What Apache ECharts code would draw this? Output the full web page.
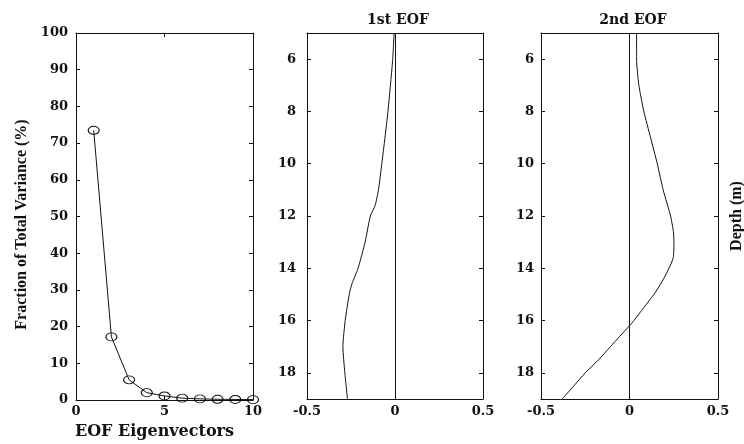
<!DOCTYPE html>
<html>
<head>
<meta charset="utf-8">
<script src="https://cdn.jsdelivr.net/npm/echarts@6/dist/echarts.min.js"></script>
<style>
  html, body { margin: 0; padding: 0; background: #fff; }
  #chart { width: 744px; height: 444px; }
</style>
</head>
<body>
<div id="chart"></div>
<script>
// Explained variance of the leading EOF modes (%)
const modeNumbers = [1, 2, 3, 4, 5, 6, 7, 8, 9, 10];
const varianceFraction = [73.5, 17.2, 5.5, 2.0, 1.1, 0.5, 0.3, 0.2, 0.15, 0.1];

// Vertical structure of the modes: depth (m) and amplitude
const eof1Depth = [5, 6, 7, 8, 9, 10, 11, 11.6, 12, 13, 14, 14.6, 15, 16, 17, 18, 19];
const eof1Value = [-0.005, -0.013, -0.026, -0.04, -0.057, -0.075, -0.094, -0.113, -0.14, -0.17, -0.21, -0.245, -0.26, -0.283, -0.296, -0.285, -0.27];

const eof2Depth = [5, 6, 7, 8, 9, 10, 11, 12, 12.6, 13, 13.6, 14, 14.5, 15, 15.5, 16, 16.2, 16.6, 17, 17.5, 18, 18.5, 19];
const eof2Value = [0.04, 0.04, 0.053, 0.081, 0.119, 0.157, 0.19, 0.232, 0.248, 0.251, 0.247, 0.223, 0.185, 0.138, 0.081, 0.025, 0.0, -0.055, -0.108, -0.175, -0.25, -0.315, -0.38];

const varianceTicks = { min: 0, max: 100, interval: 10 };
const modeTicks = { min: 0, max: 10, interval: 5 };
const depthRange = { min: 5, max: 19 };
const depthTickValues = [6, 8, 10, 12, 14, 16, 18];
const ampTicks = { min: -0.5, max: 0.5, interval: 0.5 };

const ink = '#111';
const tickFont = { fontFamily: 'DejaVu Serif', fontWeight: 'bold', fontSize: 13, color: ink };
const nameFont = { fontFamily: 'Liberation Serif', fontWeight: 'bold', fontSize: 16, color: ink };

const grids = [
  { left: 76, top: 33, width: 177, height: 367, outerBoundsMode: 'none' },
  { left: 307, top: 33, width: 176, height: 366, outerBoundsMode: 'none' },
  { left: 541, top: 33, width: 177, height: 366, outerBoundsMode: 'none' }
];

function axisBase(gridIndex, position, ticks, showLabel, extra) {
  const ax = {
    type: 'value',
    gridIndex: gridIndex,
    position: position,
    min: ticks.min,
    max: ticks.max,
    axisLine: { show: true, onZero: false, lineStyle: { color: ink, width: 1 } },
    axisTick: { show: true, inside: true, length: 4, lineStyle: { color: ink, width: 1 } },
    splitLine: { show: false },
    axisLabel: Object.assign({ show: showLabel }, tickFont)
  };
  if (ticks.interval) ax.interval = ticks.interval;
  return Object.assign(ax, extra || {});
}

function depthAxis(gridIndex, position, showLabel, margin, extra) {
  return axisBase(gridIndex, position, depthRange, showLabel, Object.assign({
    inverse: true,
    axisTick: { show: true, inside: true, length: 4, customValues: depthTickValues,
                lineStyle: { color: ink, width: 1 } },
    axisLabel: Object.assign({ show: showLabel, margin: margin, customValues: depthTickValues }, tickFont)
  }, extra || {}));
}

const xAxes = [];
const yAxes = [];

// Panel 1: variance spectrum
xAxes.push(axisBase(0, 'bottom', modeTicks, true, {
  axisLabel: Object.assign({ show: true, margin: 5 }, tickFont),
  name: 'EOF Eigenvectors', nameLocation: 'middle', nameGap: 24,
  nameTextStyle: { fontFamily: 'DejaVu Serif', fontWeight: 'bold', fontSize: 16, color: ink,
                   padding: [0, 20, 0, 0] }
}));
xAxes.push(axisBase(0, 'top', modeTicks, false));
yAxes.push(axisBase(0, 'left', varianceTicks, true, {
  axisLabel: Object.assign({ show: true, margin: 8 }, tickFont),
  name: 'Fraction of Total Variance (%)', nameLocation: 'middle', nameGap: 46,
  nameTextStyle: Object.assign({ padding: [0, 16, 0, 0] }, nameFont)
}));
yAxes.push(axisBase(0, 'right', varianceTicks, false));

// Panels 2 and 3: mode profiles against depth
xAxes.push(axisBase(1, 'bottom', ampTicks, true, { axisLabel: Object.assign({ show: true, margin: 6 }, tickFont) }));
xAxes.push(axisBase(1, 'top', ampTicks, false));
yAxes.push(depthAxis(1, 'left', true, 11));
yAxes.push(depthAxis(1, 'right', false, 8));

xAxes.push(axisBase(2, 'bottom', ampTicks, true, { axisLabel: Object.assign({ show: true, margin: 6 }, tickFont) }));
xAxes.push(axisBase(2, 'top', ampTicks, false));
yAxes.push(depthAxis(2, 'left', true, 7));
yAxes.push(depthAxis(2, 'right', false, 8, {
  name: 'Depth (m)', nameLocation: 'middle', nameGap: 11, nameRotate: 90,
  nameTextStyle: nameFont
}));

function zip(xs, ys) { return xs.map(function (x, i) { return [x, ys[i]]; }); }

const zeroLine = {
  silent: true,
  symbol: ['none', 'none'],
  label: { show: false },
  lineStyle: { color: ink, width: 1, type: 'solid' },
  data: [{ xAxis: 0 }]
};

const titleFont = { fontFamily: 'DejaVu Serif', fontWeight: 'bold', fontSize: 14, color: ink };

const option = {
  animation: false,
  backgroundColor: '#fff',
  title: [
    { text: '1st EOF', left: 393, top: 8, textAlign: 'center', textStyle: titleFont },
    { text: '2nd EOF', left: 628, top: 8, textAlign: 'center', textStyle: titleFont }
  ],
  grid: grids,
  xAxis: xAxes,
  yAxis: yAxes,
  series: [
    {
      type: 'line', xAxisIndex: 0, yAxisIndex: 0,
      data: zip(modeNumbers, varianceFraction),
      symbol: 'circle', symbolSize: [11, 8],
      itemStyle: { color: 'rgba(255,255,255,0)', borderColor: ink, borderWidth: 1 },
      lineStyle: { color: ink, width: 1 }
    },
    {
      type: 'line', xAxisIndex: 2, yAxisIndex: 2,
      data: zip(eof1Value, eof1Depth),
      showSymbol: false, smooth: 0.2,
      lineStyle: { color: ink, width: 1 },
      markLine: zeroLine
    },
    {
      type: 'line', xAxisIndex: 4, yAxisIndex: 4,
      data: zip(eof2Value, eof2Depth),
      showSymbol: false, smooth: 0.2,
      lineStyle: { color: ink, width: 1 },
      markLine: zeroLine
    }
  ]
};

echarts.init(document.getElementById('chart'), null, { renderer: 'canvas' }).setOption(option);
</script>
</body>
</html>
